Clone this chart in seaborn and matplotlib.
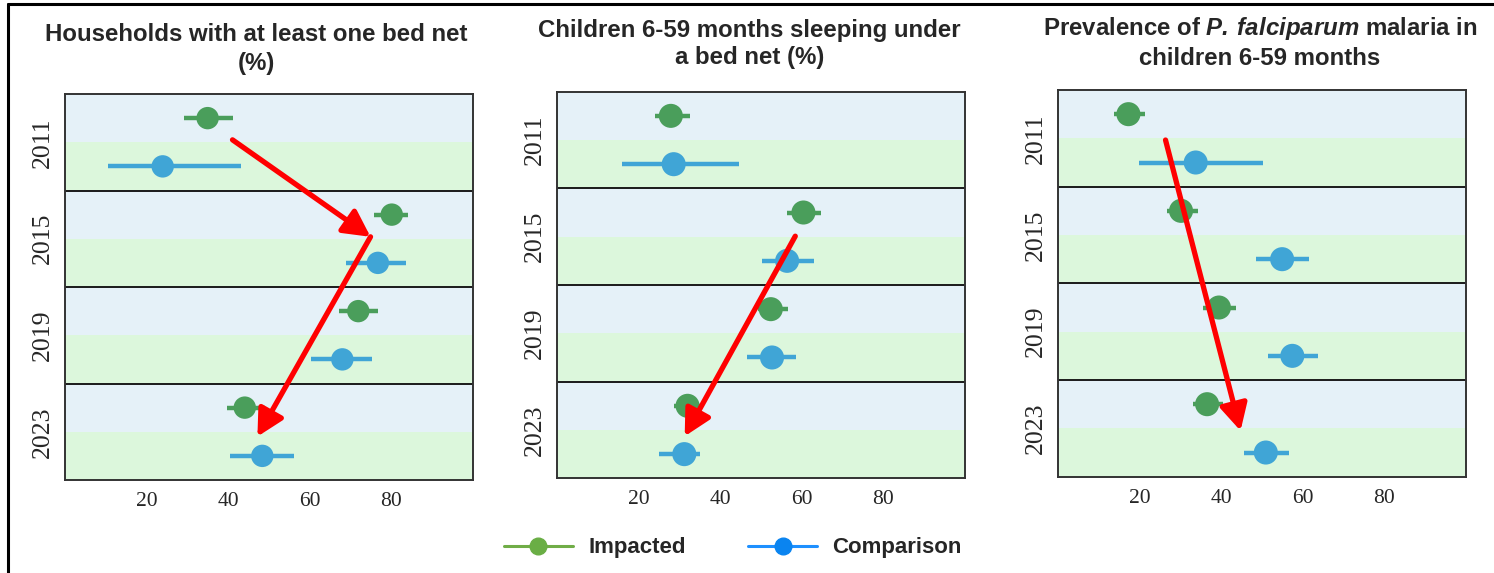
import matplotlib
matplotlib.use("Agg")
import matplotlib.pyplot as plt
from matplotlib.lines import Line2D
import seaborn as sns
import pandas as pd
import numpy as np

# ---------------- data ----------------
years = ["2011", "2015", "2019", "2023"]
groups = ["Impacted", "Comparison"]

titles = [
    "Households with at least one bed net\n(%)",
    "Children 6-59 months sleeping under\na bed net (%)",
    "Prevalence of $\\bfit{P.\\,falciparum}$ malaria in\nchildren 6-59 months",
]

hh_imp = [35.0, 80.1, 71.9, 44.1]
hh_imp_lo = [29.1, 75.8, 67.1, 39.7]
hh_imp_hi = [41.1, 84.2, 76.7, 49.0]
hh_cmp = [24.0, 76.7, 68.0, 48.4]
hh_cmp_lo = [10.5, 68.9, 60.4, 40.6]
hh_cmp_hi = [43.3, 83.7, 75.3, 56.2]

net_imp = [27.9, 60.4, 52.4, 32.0]
net_imp_lo = [23.9, 56.4, 49.3, 28.7]
net_imp_hi = [32.5, 64.7, 56.5, 35.1]
net_cmp = [28.6, 56.4, 52.7, 31.2]
net_cmp_lo = [15.9, 50.2, 46.6, 25.1]
net_cmp_hi = [44.7, 62.9, 58.7, 35.0]

pf_imp = [17.2, 30.1, 39.4, 36.5]
pf_imp_lo = [13.7, 26.6, 35.5, 33.0]
pf_imp_hi = [21.2, 34.3, 43.7, 40.4]
pf_cmp = [33.7, 54.9, 57.4, 50.9]
pf_cmp_lo = [19.9, 48.5, 51.5, 45.6]
pf_cmp_hi = [50.2, 61.5, 63.6, 56.6]

x_ticks = [0, 20, 40, 60, 80, 100]
x_ticklabels = ["", "20", "40", "60", "80", ""]

# red arrows: (x value, row position) start -> end
arrows = [
    [((41.1, 0.45), (74.9, 2.46)), ((74.9, 2.46), (47.2, 6.60))],
    [((58.4, 2.49), (31.3, 6.63))],
    [((26.3, 0.535), (44.7, 6.55))],
]

panels = [
    (hh_imp, hh_imp_lo, hh_imp_hi, hh_cmp, hh_cmp_lo, hh_cmp_hi),
    (net_imp, net_imp_lo, net_imp_hi, net_cmp, net_cmp_lo, net_cmp_hi),
    (pf_imp, pf_imp_lo, pf_imp_hi, pf_cmp, pf_cmp_lo, pf_cmp_hi),
]

# ---------------- style ----------------
sns.set_style("white")
plt.rcParams["font.family"] = ["Liberation Sans", "DejaVu Sans"]
plt.rcParams["mathtext.fontset"] = "custom"
plt.rcParams["mathtext.bfit"] = "Liberation Sans:bold:italic"
plt.rcParams["mathtext.bf"] = "Liberation Sans:bold"

col_pt = {"Impacted": "#4A9E5B", "Comparison": "#40A5D6"}
band_blue = "#E5F1F8"
band_green = "#DCF7DC"

fig = plt.figure(figsize=(14.94, 5.73), dpi=100)
W, H = 1494, 573
boxes = [(64.7, 473, 94, 480), (557, 965, 91.7, 478.3), (1058.3, 1466, 90, 476.7)]
title_x = [0.47, 0.472, 0.495]
title_y = [1.05, 1.058, 1.052]
title_ls = [1.32, 1.22, 1.25]
marker_s = [260, 300, 300]

for p, (vals, box) in enumerate(zip(panels, boxes)):
    l, r, t, b = box
    ax = fig.add_axes([l / W, 1 - b / H, (r - l) / W, (b - t) / H])
    imp, imp_lo, imp_hi, cmp_, cmp_lo, cmp_hi = vals
    rows = []
    for i, y in enumerate(years):
        rows.append(dict(year=y, group="Impacted", est=imp[i], lo=imp_lo[i], hi=imp_hi[i], pos=2 * i))
        rows.append(dict(year=y, group="Comparison", est=cmp_[i], lo=cmp_lo[i], hi=cmp_hi[i], pos=2 * i + 1))
    df = pd.DataFrame(rows)

    # bands
    for k in range(8):
        ax.axhspan(k - 0.5, k + 0.5, color=band_blue if k % 2 == 0 else band_green, lw=0, zorder=0)
    for k in [1.5, 3.5, 5.5]:
        ax.axhline(k, color="#1a1a1a", lw=1.4, zorder=1)

    # CIs
    for g in groups:
        d = df[df.group == g]
        ax.hlines(d.pos, d.lo, d.hi, color=col_pt[g], lw=3.2, zorder=2, capstyle="butt")
    sns.scatterplot(data=df, x="est", y="pos", hue="group", palette=col_pt,
                    s=marker_s[p], edgecolor="none", linewidth=0, legend=False, ax=ax, zorder=3)

    ax.set_xlim(0, 100)
    ax.set_ylim(7.5, -0.5)
    ax.set_xticks(x_ticks)
    ax.set_xticklabels(x_ticklabels, family="Liberation Serif", fontsize=15.5)
    ax.set_yticks([0.5, 2.5, 4.5, 6.5])
    ax.set_yticklabels(years, family="Liberation Serif", fontsize=18.5, rotation=90, va="center")
    ax.tick_params(axis="x", direction="inout", length=9, width=1.2, color="#333333", pad=4)
    ax.tick_params(axis="y", length=0, pad=8)
    ax.set_xlabel("")
    ax.set_ylabel("")
    for s in ax.spines.values():
        s.set_color("#333333")
        s.set_linewidth(1.4)
        s.set_visible(True)

    ax.text(title_x[p], title_y[p], titles[p], transform=ax.transAxes, ha="center", va="bottom",
            fontsize=17.3, fontweight="bold", linespacing=title_ls[p])

    for (x0, y0), (x1, y1) in arrows[p]:
        ax.annotate("", xy=(x1, y1), xytext=(x0, y0),
                    arrowprops=dict(arrowstyle="-|>,head_length=0.8,head_width=0.42",
                                    color="#FF0000", lw=3.8, mutation_scale=20,
                                    shrinkA=0, shrinkB=0),
                    zorder=5)

# legend
handles = [
    Line2D([0], [0], color="#70AD47", lw=2.2, marker="o", markersize=12,
           markerfacecolor="#6AAE45", markeredgecolor="#6AAE45"),
    Line2D([0], [0], color="#1E90FF", lw=2.2, marker="o", markersize=12,
           markerfacecolor="#0A84F0", markeredgecolor="#0A84F0"),
]
fig.legend(handles, groups, loc="center", bbox_to_anchor=(733 / W, 1 - 548 / H), ncol=2,
           frameon=False, prop=dict(family="Liberation Sans", weight="bold", size=16),
           handlelength=3.1, handletextpad=0.7, columnspacing=2.8)

# figure border (left and top)
fig.add_artist(Line2D([7.5 / W, 7.5 / W], [0, 1 - 4 / H], color="black", lw=2.2, transform=fig.transFigure))
fig.add_artist(Line2D([7.5 / W, 1], [1 - 4 / H, 1 - 4 / H], color="black", lw=2.2, transform=fig.transFigure))

fig.savefig("out.png", dpi=100)
